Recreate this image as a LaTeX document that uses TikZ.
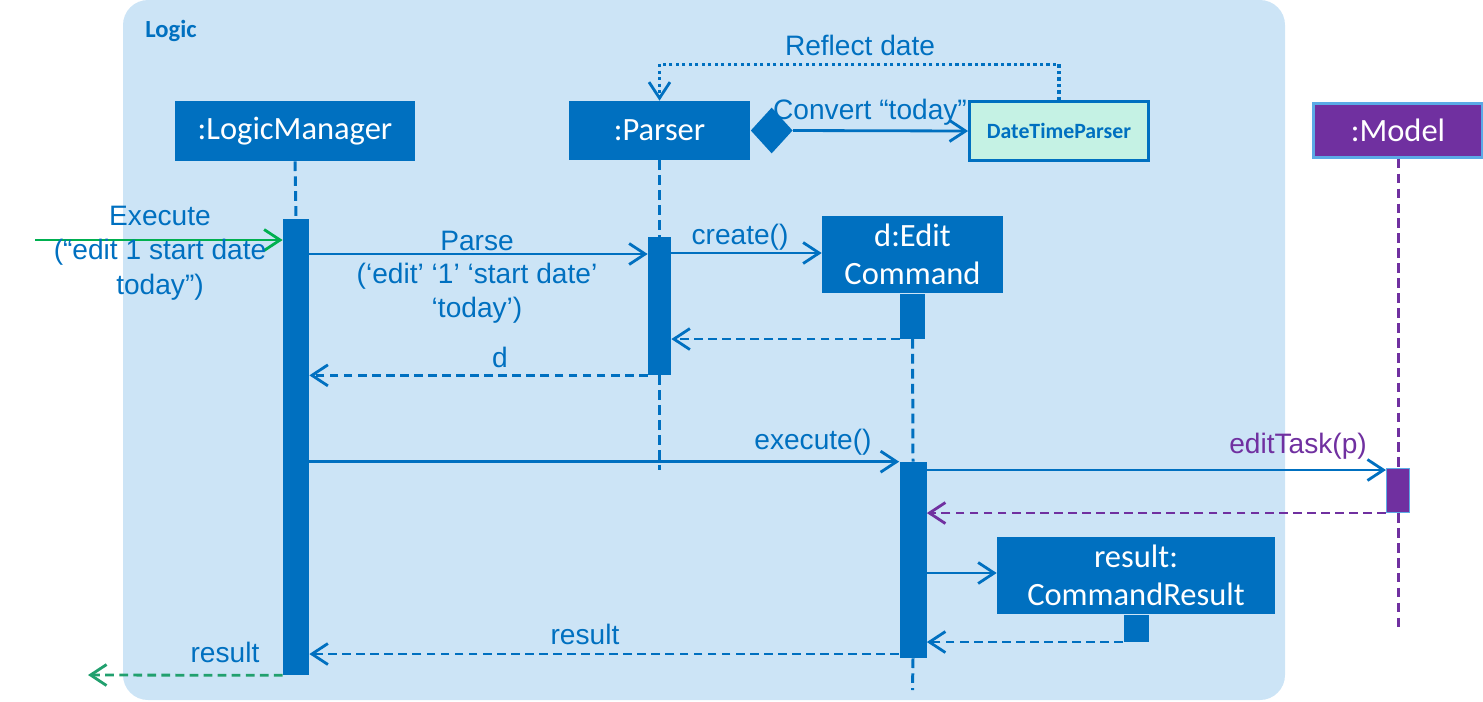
\documentclass[tikz,border=0pt]{standalone}
\usepackage{fontspec}
\setmainfont{Liberation Sans}
\newfontfamily\boxfont{Carlito}
\usetikzlibrary{arrows.meta, positioning, shapes.geometric}

\definecolor{logicblue}{RGB}{0,112,192}
\definecolor{logicbg}{RGB}{204,228,246}
\definecolor{mint}{RGB}{197,242,228}
\definecolor{modelpurple}{RGB}{112,48,160}
\definecolor{modeledge}{RGB}{91,170,230}
\definecolor{entrygreen}{RGB}{0,176,80}
\definecolor{exitgreen}{RGB}{33,160,110}

\tikzset{
  objbox/.style={fill=logicblue, text=white, inner sep=0pt, align=center,
    font=\boxfont\fontsize{18.5}{21.5}\selectfont},
  actbar/.style={fill=logicblue, minimum width=0.5cm, inner sep=0pt},
  lifeline/.style={logicblue, line width=1.7pt, dash pattern=on 5.5pt off 3pt},
  msg/.style={logicblue, line width=1.6pt,
    -{Straight Barb[length=3.2mm, width=4.2mm, line width=1.6pt]}},
  reply/.style={msg, dash pattern=on 5pt off 3pt},
  lbl/.style={text=logicblue, inner sep=0pt, align=center,
    font=\fontsize{16}{19.6}\selectfont},
}

\begin{document}
\begin{tikzpicture}[x=0.02cm, y=-0.02cm]

    \useasboundingbox (0,0) rectangle (1483,701);

    % --- Logic Frame ---
    \fill[logicbg, rounded corners=0.5cm] (123,0) rectangle (1285,700);
    \node[text=logicblue, font=\boxfont\bfseries\fontsize{14}{16}\selectfont] (frame) at (171,31) {Logic};

    % --- Objects ---
    \node[objbox, minimum width=4.82cm, minimum height=1.2cm] (lm) at (295,131) {:LogicManager};
    \node[objbox, minimum width=3.62cm, minimum height=1.18cm] (ps) at (659.5,130.5) {:Parser};
    \node[diamond, fill=logicblue, inner sep=0pt, minimum width=0.84cm, minimum height=0.92cm,
      right=0pt of ps] (dmd) {}; % composition
    \node[draw=logicblue, line width=1.6pt, fill=mint, text=logicblue, minimum width=3.58cm,
      minimum height=1.18cm, font=\boxfont\bfseries\fontsize{12.4}{15}\selectfont] (dtp) at (1059,131) {DateTimeParser};
    \node[objbox, fill=modelpurple, draw=modeledge, line width=1.4pt, minimum width=3.38cm,
      minimum height=1.08cm] (md) at (1398,130.5) {:Model};
    \node[objbox, minimum width=3.62cm, minimum height=1.54cm] (ec) at (912.5,254.5) {d:Edit\\Command};
    \node[objbox, minimum width=5.56cm, minimum height=1.54cm] (res) at (1136,575.5) {result:\\CommandResult};

    % --- Activation Bars ---
    \node[actbar, minimum width=0.52cm, minimum height=9.12cm] (lmAct) at (296,447) {};
    \node[actbar, minimum width=0.46cm, minimum height=2.76cm] (psAct) at (659.5,306) {};
    \node[actbar, minimum height=0.9cm, below=0pt of ec] (ecAct) {};
    \node[actbar, minimum width=0.54cm, minimum height=3.92cm] (ecRun) at (913,560) {};
    \node[actbar, minimum height=0.54cm, below=0pt of res] (resAct) {};
    \node[actbar, fill=modelpurple, draw=modeledge, line width=0.6pt, minimum width=0.46cm,
      minimum height=0.88cm] (mdAct) at (1398,490.5) {};

    % --- Lifelines ---
    \draw[lifeline] (lm.south) -- (lmAct.north);
    \draw[lifeline] (ps.south) -- (psAct.north);
    \draw[lifeline] (psAct.south) -- (659.5,470);
    \draw[lifeline] (ecAct.south) -- (ecRun.north);
    \draw[lifeline] (ecRun.south) -- (912.5,690);
    \draw[lifeline, modelpurple] (md.south) -- (mdAct.north);
    \draw[lifeline, modelpurple] (mdAct.south) -- (1398,627);

    % --- Parser and DateTimeParser ---
    \draw[msg] (dmd.east) -- (dtp.west);
    \node[lbl] (convLbl) at (870,112) {Convert “today”};
    \draw[msg, line width=1.8pt, dash pattern=on 1.8pt off 1.9pt] (dtp.north) -- ++(0,-36) -| (ps.north);
    \node[lbl] (reflLbl) at (860,45) {Reflect date};

    % --- Messages ---
    \coordinate (entry) at (35,240);
    \draw[msg, entrygreen] (entry) -- (lmAct.west |- entry);
    \node[lbl] (execLbl) at (160,253) {Execute\\(“edit 1 start date\\today”)};

    \draw[msg] (lmAct.east |- 0,254) -- (psAct.west |- 0,254);
    \node[lbl] (parseLbl) at (477,241) {Parse};
    \node[lbl, font=\fontsize{16}{19.2}\selectfont] (argsLbl) at (477,293) {(‘edit’ ‘1’ ‘start date’\\‘today’)};

    \draw[msg] (psAct.east |- 0,253) -- (ec.west |- 0,253);
    \node[lbl] (createLbl) at (740,237) {create()};
    \draw[reply] (ecAct.south west) -- (psAct.east |- ecAct.south);

    \draw[reply] (psAct.south west) -- (lmAct.east |- psAct.south);
    \node[lbl] (dLbl) at (500,357) {d};

    \draw[msg] (lmAct.east |- ecRun.north) -- (ecRun.north west);
    \node[lbl] (runLbl) at (813,442) {execute()};

    \draw[msg] (ecRun.east |- 0,470) -- (mdAct.west |- 0,470);
    \node[lbl, text=modelpurple] (taskLbl) at (1298,446) {editTask(p)};
    \draw[reply, modelpurple] (mdAct.south west) -- (ecRun.east |- mdAct.south);

    \draw[msg] (ecRun.east |- 0,573) -- (res.west |- 0,573);
    \draw[reply] (resAct.south west) -- (ecRun.east |- resAct.south);

    \draw[reply] (ecRun.west |- 0,654) -- (lmAct.east |- 0,654);
    \node[lbl] (resLbl) at (585,634) {result};

    \coordinate (exit) at (88,675);
    \draw[reply, exitgreen] (lmAct.south west) -- (exit);
    \node[lbl] (outLbl) at (225,652) {result};

\end{tikzpicture}
\end{document}
